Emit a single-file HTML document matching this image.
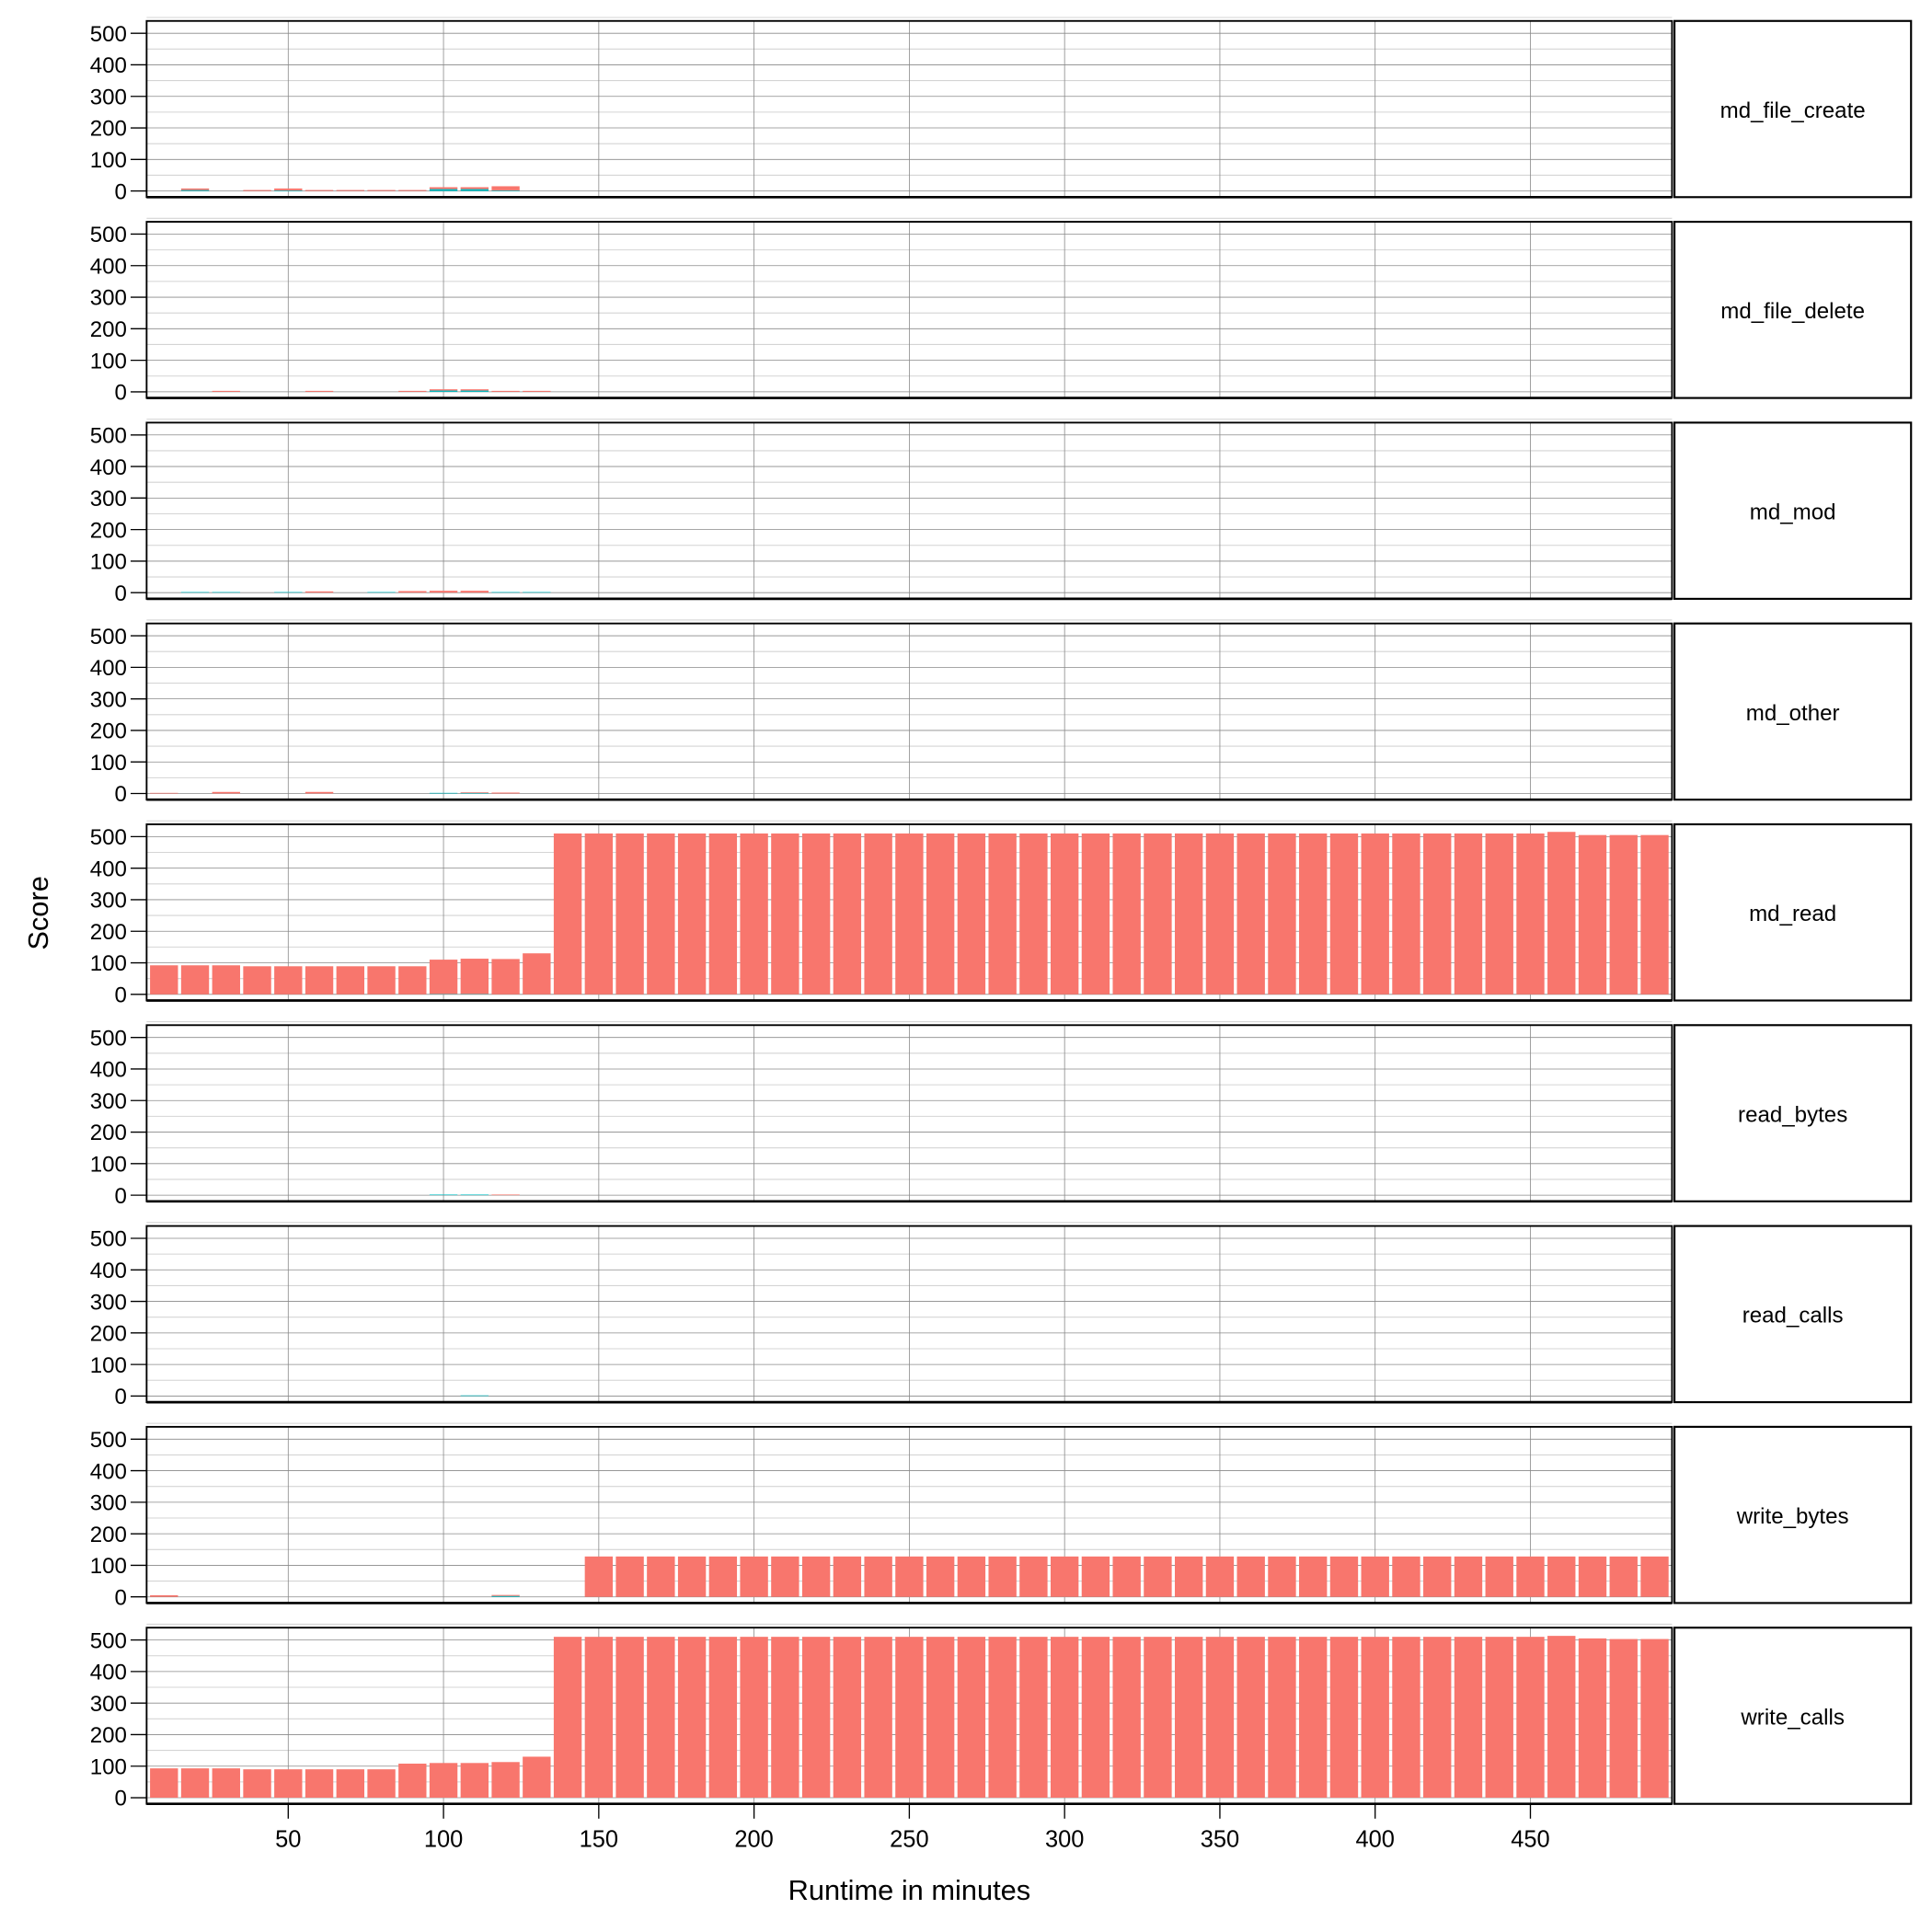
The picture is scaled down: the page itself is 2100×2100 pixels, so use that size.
<!DOCTYPE html>
<html><head><meta charset="utf-8"><style>html,body{margin:0;padding:0;background:#fff}svg{display:block}text{font-family:"Liberation Sans",sans-serif;fill:#000}</style></head>
<body>
<svg id="chart" width="2100" height="2100" viewBox="0 0 1568 1568" xmlns="http://www.w3.org/2000/svg">
<rect x="0" y="0" width="1568" height="1568" fill="#fff"/>
<text x="738" y="1542" font-size="23" text-anchor="middle">Runtime in minutes</text>
<text transform="translate(39,741) rotate(-90)" font-size="23" text-anchor="middle">Score</text>
</svg>
<script>
const facets = ["md_file_create","md_file_delete","md_mod","md_other","md_read","read_bytes","read_calls","write_bytes","write_calls"];
const minutes = [10,20,30,40,50,60,70,80,90,100,110,120,130,140,150,160,170,180,190,200,210,220,230,240,250,260,270,280,290,300,310,320,330,340,350,360,370,380,390,400,410,420,430,440,450,460,470,480,490];
const yTicks = [0,100,200,300,400,500];
const xTicks = [50,100,150,200,250,300,350,400,450];
const big = v => v; 
// red series (per facet) and teal series (per facet), length 49
const redMdFileCreate = [0,5,0,3,6,3,3,3,3,6,6,13,0];
const tealMdFileCreate = [0,3,0,0,2,0,0,0,0,6,6,2,0];
const redMdFileDelete = [0,0,3,0,0,3,0,0,3,4,4,3,3];
const tealMdFileDelete = [0,0,0,0,0,0,0,0,0,4,4,0,0];
const redMdMod = [0,0,0,0,0,4,0,0,5,6,6,0,0];
const tealMdMod = [0,2,2,0,2,0,0,2,0,0,0,2,2];
const redMdOther = [2,0,5,0,0,5,0,0,0,0,2,3,0];
const tealMdOther = [0,0,0,0,0,0,0,0,0,2,2,0,0];
const redMdRead = [92,92,92,89,89,89,89,89,89,109,112,112,130,510,510,510,510,510,510,510,510,510,510,510,510,510,510,510,510,510,510,510,510,510,510,510,510,510,510,510,510,510,510,510,510,515,505,505,505];
const tealMdRead = [0,0,0,0,0,0,0,0,0,1,1,0,0];
const redReadBytes = [0,0,0,0,0,0,0,0,0,0,0,2,0];
const tealReadBytes = [0,0,0,0,0,0,0,0,0,2,2,0,0];
const redReadCalls = [0,0,0,0,0,0,0,0,0,0,0,0,0];
const tealReadCalls = [0,0,0,0,0,0,0,0,0,0,2,0,0];
const redWriteBytes = [5,0,0,0,0,0,0,0,0,0,0,3,0,0,128,128,128,128,128,128,128,128,128,128,128,128,128,128,128,128,128,128,128,128,128,128,128,128,128,128,128,128,128,128,128,128,128,128,128];
const tealWriteBytes = [0,0,0,0,0,0,0,0,0,0,0,3,0];
const redWriteCalls = [93,93,93,90,90,90,90,90,108,110,110,113,130,510,510,510,510,510,510,510,510,510,510,510,510,510,510,510,510,510,510,510,510,510,510,510,510,510,510,510,510,510,510,510,510,513,505,503,503];
const tealWriteCalls = [0,0,0,0,0,0,0,0,0,0,0,0,0];
const redSeries = [redMdFileCreate,redMdFileDelete,redMdMod,redMdOther,redMdRead,redReadBytes,redReadCalls,redWriteBytes,redWriteCalls];
const tealSeries = [tealMdFileCreate,tealMdFileDelete,tealMdMod,tealMdOther,tealMdRead,tealReadBytes,tealReadCalls,tealWriteBytes,tealWriteCalls];

const NS = "http://www.w3.org/2000/svg";
const svg = document.getElementById("chart");
const PL = 119, PR = 1357, SL = 1359, SR = 1551, PH = 143, STEP = 163, TOP0 = 17;
const xDom = [4.4, 495.6];
const xs = v => PL + (v - xDom[0]) / (xDom[1] - xDom[0]) * (PR - PL);
const barW = 9 * (PR - PL) / (xDom[1] - xDom[0]);
function mk(tag, attrs, parent) { const e = document.createElementNS(NS, tag); for (const k in attrs) e.setAttribute(k, attrs[k]); (parent || svg).appendChild(e); return e; }

facets.forEach((f, i) => {
  const top = TOP0 + i * STEP;
  const ys = v => top + 138 - v * (128 / 500);
  const g = mk("g", {});
  
  
  // minor grid
  for (let k = 0; k < yTicks.length - 1; k++) {
    const yv = (yTicks[k] + yTicks[k + 1]) / 2;
    mk("line", {x1: PL, x2: PR, y1: ys(yv), y2: ys(yv), stroke: "#d4d4d4", "stroke-width": 0.8}, g);
  }
  mk("line", {x1: PL, x2: PR, y1: ys(550), y2: ys(550), stroke: "#d4d4d4", "stroke-width": 0.8}, g);
  yTicks.forEach(t => mk("line", {x1: PL, x2: PR, y1: ys(t), y2: ys(t), stroke: "#8a8a8a", "stroke-width": 0.6}, g));
  xTicks.forEach(t => mk("line", {x1: xs(t), x2: xs(t), y1: top, y2: top + PH, stroke: "#8a8a8a", "stroke-width": 0.6}, g));
  // bars
  const red = redSeries[i], teal = tealSeries[i];
  minutes.forEach((m, j) => {
    const r = red[j] || 0, t = teal[j] || 0;
    if (t > 0) {
      const b = mk("rect", {x: xs(m) - barW / 2, y: ys(t), width: barW, height: ys(0) - ys(t), fill: "#00BFC4"}, g);
      
      
    }
    if (r > 0) {
      const b = mk("rect", {x: xs(m) - barW / 2, y: ys(t + r), width: barW, height: ys(t) - ys(t + r), fill: "#F8766D"}, g);
      
      
    }
  });
  // y ticks
  yTicks.forEach(t => {
    mk("line", {x1: PL - 13, x2: PL, y1: ys(t), y2: ys(t), stroke: "#000", "stroke-width": 1}, g);
    const tx = mk("text", {x: PL - 16, y: ys(t) + 6.5, "font-size": 18, "text-anchor": "end"}, g);
    tx.textContent = t;
    
    
  });
  mk("rect", {x: PL, y: top, width: PR - PL, height: PH, fill: "none", stroke: "#000", "stroke-width": 1.4}, g);
  mk("line", {x1: PL, x2: PR, y1: top + PH, y2: top + PH, stroke: "#000", "stroke-width": 2}, g);
  // strip
  const s = mk("rect", {x: SL, y: top, width: SR - SL, height: PH, fill: "#fff", stroke: "#000", "stroke-width": 1.6}, g);
  
  
  const st = mk("text", {x: (SL + SR) / 2, y: top + PH / 2 + 7, "font-size": 18, "text-anchor": "middle"}, g);
  st.textContent = f;
  
  
  if (i === facets.length - 1) {
    xTicks.forEach(t => {
      mk("line", {x1: xs(t), x2: xs(t), y1: top + PH, y2: top + PH + 12, stroke: "#000", "stroke-width": 1}, g);
      const tx = mk("text", {x: xs(t), y: top + PH + 35, "font-size": 19, "text-anchor": "middle"}, g);
      tx.textContent = t;
      
      
    });
  }
});
</script>
</body></html>
